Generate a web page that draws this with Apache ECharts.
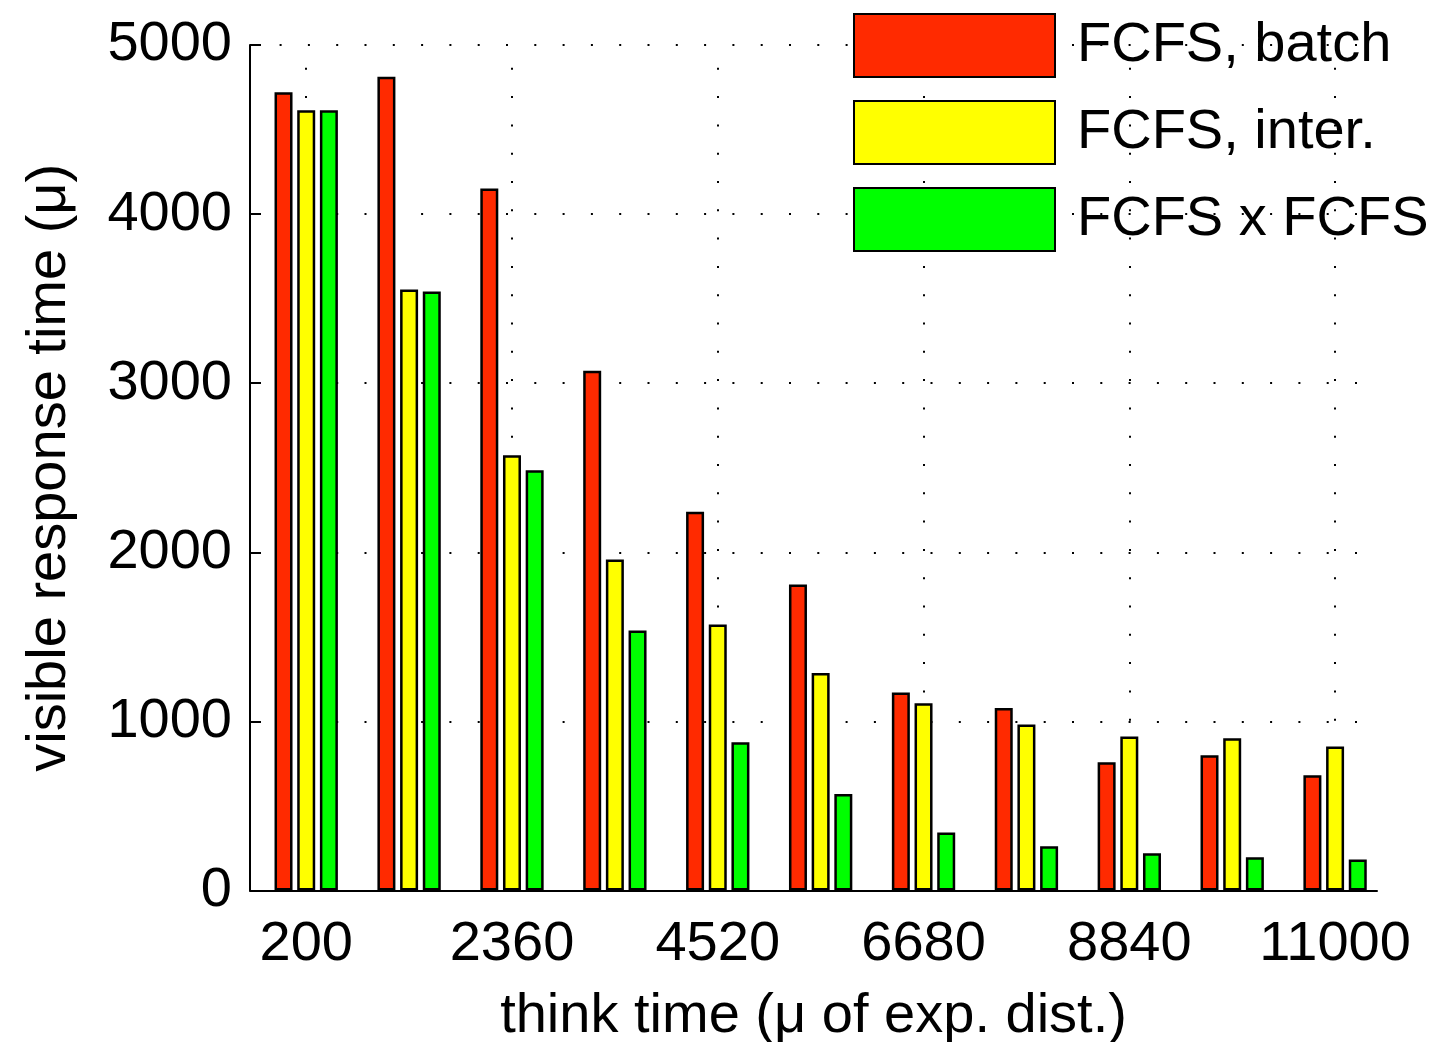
<!DOCTYPE html>
<html>
<head>
<meta charset="utf-8">
<script src="https://cdn.jsdelivr.net/npm/echarts@6/dist/echarts.min.js"></script>
<style>
html,body{margin:0;padding:0;background:#fff;}
#chart{width:1433px;height:1042px;}
</style>
</head>
<body>
<div id="chart"></div>
<script>
// think time categories (μ of exp. dist.)
const thinkTimes = [200, 1280, 2360, 3440, 4520, 5600, 6680, 7760, 8840, 9920, 11000];
const xTickLabels = [200, 2360, 4520, 6680, 8840, 11000];
const seriesNames = ['FCFS, batch', 'FCFS, inter.', 'FCFS x FCFS'];
// visible response time values
const fcfsBatch = [4720, 4812, 4152, 3073, 2240, 1810, 1171, 1079, 758, 800, 681];
const fcfsInter = [4614, 3554, 2574, 1958, 1573, 1286, 1108, 982, 910, 901, 852];
const fcfsXfcfs = [4614, 3543, 2485, 1537, 877, 571, 343, 261, 220, 196, 183];

const FONT = 'Liberation Sans, Arial, Helvetica, sans-serif';
const FS = 56;
const colors = ['#ff2a00', '#ffff00', '#00ff00'];
const values = [fcfsBatch, fcfsInter, fcfsXfcfs];
const dotted = [2, 26.3];

const chart = echarts.init(document.getElementById('chart'));

const series = seriesNames.map((name, s) => ({
  name: name,
  type: 'bar',
  z: 2,
  barWidth: 18,
  barGap: '26%',
  itemStyle: { color: colors[s], borderColor: '#000', borderWidth: 2.5 },
  data: thinkTimes.map((t, i) => [t, values[s][i]])
}));

// vertical dotted grid lines at labelled ticks
series.push({
  type: 'line',
  data: [],
  silent: true,
  markLine: {
    z: 1,
    silent: true,
    animation: false,
    symbol: ['none', 'none'],
    label: { show: false },
    lineStyle: { color: '#000', width: 2, type: dotted },
    data: xTickLabels.map(v => ({ xAxis: v }))
  }
});

chart.setOption({
  animation: false,
  backgroundColor: '#fff',
  grid: { left: 250, right: 56, top: 45, bottom: 151.5, containLabel: false, outerBoundsMode: 'none' },
  legend: {
    data: seriesNames,
    orient: 'vertical',
    left: 853,
    top: 13,
    padding: 0,
    itemWidth: 201,
    itemHeight: 63,
    itemGap: 22,
    icon: 'rect',
    itemStyle: { borderColor: '#000', borderWidth: 2 },
    textStyle: { fontFamily: FONT, fontSize: FS, lineHeight: 60, color: '#000', padding: [0, 0, 0, 17] },
    selectedMode: false
  },
  xAxis: {
    type: 'value',
    min: -390,
    max: 11440,
    name: 'think time (μ of exp. dist.)',
    nameLocation: 'middle',
    nameGap: 98,
    nameTextStyle: { fontFamily: FONT, fontSize: FS, color: '#000' },
    axisLine: { show: true, onZero: false, lineStyle: { color: '#000', width: 2 } },
    axisTick: { show: false },
    splitLine: { show: false },
    axisLabel: {
      customValues: xTickLabels,
      formatter: v => String(v),
      margin: 26,
      fontFamily: FONT, fontSize: FS, color: '#000'
    }
  },
  yAxis: {
    type: 'value',
    min: 0,
    max: 5000,
    interval: 1000,
    name: 'visible response time (μ)',
    nameLocation: 'middle',
    nameRotate: 90,
    nameGap: 172,
    nameTextStyle: { fontFamily: FONT, fontSize: FS, color: '#000' },
    axisLine: { show: true, onZero: false, lineStyle: { color: '#000', width: 2 } },
    axisTick: { show: true, inside: true, length: 11, lineStyle: { color: '#000', width: 2 } },
    splitLine: { show: true, lineStyle: { color: '#000', width: 2, type: dotted, dashOffset: 27 } },
    axisLabel: {
      margin: 18,
      fontFamily: FONT, fontSize: FS, color: '#000',
      formatter: v => String(v)
    }
  },
  series: series
});
</script>
</body>
</html>
